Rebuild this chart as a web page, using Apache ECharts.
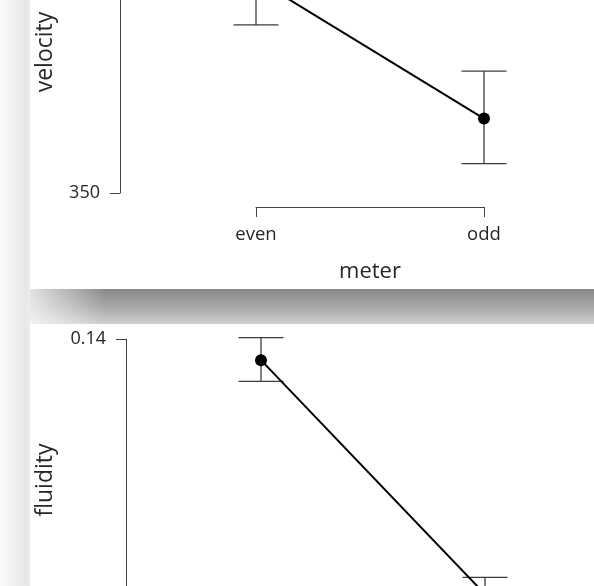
<!DOCTYPE html>
<html>
<head>
<meta charset="utf-8">
<script src="https://cdn.jsdelivr.net/npm/echarts@6/dist/echarts.min.js"></script>
<style>
  html, body { margin: 0; padding: 0; background: #ffffff; }
  #chart { width: 594px; height: 586px; }
</style>
</head>
<body>
<div id="chart"></div>
<script>
// Group levels on the x axis
const categories = ['even', 'odd'];

// Velocity: group means with interval bounds
const velocityMean = [387.9, 363.2];
const velocityLower = [379.8, 355.2];
const velocityUpper = [396.0, 371.6];
const velocityTicks = [350, 400];

// Fluidity: group means with interval bounds
const fluidityMean = [0.1385, 0.1219];
const fluidityLower = [0.1370, 0.1207];
const fluidityUpper = [0.1401, 0.1231];
const fluidityTicks = [0.12, 0.14];

const FONT = '"Open Sans", "Noto Sans", sans-serif';
const TEXT = '#262626';
const AXIS = '#444444';

function errorRows(lower, upper) {
  return categories.map((c, i) => [c, lower[i], upper[i]]);
}

function renderErrorBar(params, api) {
  const cat = api.value(0);
  const lo = api.coord([cat, api.value(1)]);
  const hi = api.coord([cat, api.value(2)]);
  const hw = 22.5;
  const style = { stroke: '#3c3c3c', lineWidth: 1.3 };
  return {
    type: 'group',
    children: [
      { type: 'line', shape: { x1: lo[0], y1: lo[1], x2: hi[0], y2: hi[1] }, style },
      { type: 'line', shape: { x1: hi[0] - hw, y1: hi[1], x2: hi[0] + hw, y2: hi[1] }, style },
      { type: 'line', shape: { x1: lo[0] - hw, y1: lo[1], x2: lo[0] + hw, y2: lo[1] }, style }
    ]
  };
}

function xAxisFor(gridIndex, offset) {
  return {
    type: 'category',
    gridIndex,
    data: categories,
    boundaryGap: false,
    position: 'bottom',
    offset,
    name: 'meter',
    nameLocation: 'middle',
    nameGap: 54,
    nameTextStyle: { fontFamily: FONT, fontSize: 22, color: TEXT },
    axisLine: { show: true, lineStyle: { color: AXIS, width: 1 } },
    axisTick: { show: true, length: 10, lineStyle: { color: AXIS, width: 1 } },
    axisLabel: { margin: 18, fontFamily: FONT, fontSize: 18.5, color: TEXT },
    splitLine: { show: false }
  };
}

function yAxisFor(gridIndex, name, ticks, offset, digits) {
  return {
    type: 'value',
    gridIndex,
    name,
    min: ticks[0],
    max: ticks[ticks.length - 1],
    interval: ticks[1] - ticks[0],
    offset,
    nameLocation: 'middle',
    nameGap: 0,
    nameRotate: 90,
    nameTextStyle: { fontFamily: FONT, fontSize: 23, color: TEXT },
    axisLine: { show: true, lineStyle: { color: AXIS, width: 1 } },
    axisTick: { show: true, length: 10, lineStyle: { color: AXIS, width: 1 } },
    axisLabel: {
      margin: 20, fontFamily: FONT, fontSize: 18, color: TEXT,
      formatter: v => Number(v).toFixed(digits)
    },
    splitLine: { show: false }
  };
}

const chart = echarts.init(document.getElementById('chart'), null, { renderer: 'canvas' });

const velY = yAxisFor(0, 'velocity', velocityTicks, 136, 0);
velY.nameGap = 63;
const fluY = yAxisFor(1, 'fluidity', fluidityTicks, 135, 2);
fluY.nameGap = 69;

const lineStyleCommon = {
  type: 'line',
  symbol: 'circle',
  symbolSize: 12,
  itemStyle: { color: '#000000' },
  lineStyle: { color: '#000000', width: 2 },
  z: 3,
  silent: true,
  animation: false
};

chart.setOption({
  animation: false,
  backgroundColor: '#ffffff',
  grid: [
    { left: 256, width: 228, top: -89, height: 282, containLabel: false, outerBoundsMode: 'none' },
    { left: 261, width: 224, top: 339, height: 282, containLabel: false, outerBoundsMode: 'none' }
  ],
  xAxis: [xAxisFor(0, 14), xAxisFor(1, 14)],
  yAxis: [velY, fluY],
  graphic: [
    {
      type: 'rect', z: 0, silent: true,
      shape: { x: 0, y: 0, width: 30, height: 586 },
      style: {
        fill: new echarts.graphic.LinearGradient(0, 0, 1, 0, [
          { offset: 0, color: '#fbfbfb' },
          { offset: 0.85, color: '#e8e8e8' },
          { offset: 1, color: '#ececec' }
        ])
      }
    },
    {
      type: 'rect', z: 0, silent: true,
      shape: { x: 30, y: 289, width: 564, height: 35 },
      style: {
        fill: new echarts.graphic.LinearGradient(0, 0, 0, 1, [
          { offset: 0, color: '#898989' },
          { offset: 0.5, color: '#a6a6a6' },
          { offset: 1, color: '#cfcfcf' }
        ])
      }
    },
    {
      type: 'rect', z: 1, silent: true,
      shape: { x: 30, y: 289, width: 75, height: 35 },
      style: {
        fill: new echarts.graphic.LinearGradient(0, 0, 1, 0, [
          { offset: 0, color: 'rgba(255,255,255,0.75)' },
          { offset: 1, color: 'rgba(255,255,255,0)' }
        ])
      }
    }
  ],
  series: [
    Object.assign({}, lineStyleCommon, { xAxisIndex: 0, yAxisIndex: 0, data: velocityMean }),
    {
      type: 'custom', xAxisIndex: 0, yAxisIndex: 0,
      renderItem: renderErrorBar,
      encode: { x: 0, y: [1, 2] },
      data: errorRows(velocityLower, velocityUpper),
      z: 2, silent: true
    },
    Object.assign({}, lineStyleCommon, { xAxisIndex: 1, yAxisIndex: 1, data: fluidityMean }),
    {
      type: 'custom', xAxisIndex: 1, yAxisIndex: 1,
      renderItem: renderErrorBar,
      encode: { x: 0, y: [1, 2] },
      data: errorRows(fluidityLower, fluidityUpper),
      z: 2, silent: true
    }
  ]
});
</script>
</body>
</html>
